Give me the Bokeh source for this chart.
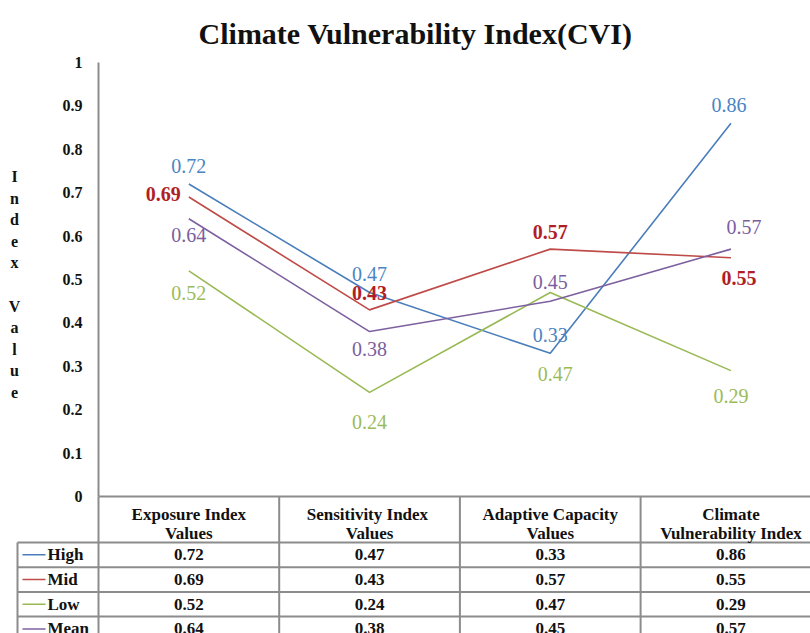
from bokeh.plotting import figure
from bokeh.models import Range1d, LinearAxis, FixedTicker, ColumnDataSource
from bokeh.core.properties import value
from bokeh.embed import file_html
from bokeh.resources import INLINE

# ---------------- data ----------------
title_text = "Climate Vulnerability Index(CVI)"
y_axis_title = "Index Value"
categories = ["Exposure Index\nValues", "Sensitivity  Index\nValues",
              "Adaptive Capacity\nValues", "Climate\nVulnerability Index"]
series_names = ["High", "Mid", "Low", "Mean"]
high = [0.72, 0.47, 0.33, 0.86]
mid = [0.69, 0.43, 0.57, 0.55]
low = [0.52, 0.24, 0.47, 0.29]
mean = [0.64, 0.38, 0.45, 0.57]
yticks = [0, 0.1, 0.2, 0.3, 0.4, 0.5, 0.6, 0.7, 0.8, 0.9, 1]
ytick_labels = ["0", "0.1", "0.2", "0.3", "0.4", "0.5", "0.6", "0.7", "0.8", "0.9", "1"]

# ---------------- styles ----------------
FONT = value("Liberation Serif")
line_colors = ["#4A7EBB", "#BE4B48", "#98B954", "#7D60A0"]
label_colors = ["#4A84C4", "#B01E26", "#9BBB59", "#7B5EA0"]
label_styles = ["normal", "bold", "normal", "normal"]
# per-point label offsets in screen px (dx, dy) and alignment
label_dx = [[0, 0, 0, -2], [-8, 0, 0, 8], [0, 0, 5, 0], [0, 0, 0, 13]]
label_dy = [[-18, -19, -18, -18], [-3, -17, -17, 20], [22, 30, 81, 25], [16, 17, -19, -22]]
label_align = [["center"] * 4, ["right", "center", "center", "center"], ["center"] * 4, ["center"] * 4]
grid_color = "#8C8C8C"

# pixel geometry (reference image coords)
W, H = 810, 633
PAGE = 0
X0, XS = 98, 180.7      # image px of x=0 and px per category
Y0, YS = 496, 434       # image px of y=0 and px per unit


def xd(px):
    return (px - X0) / XS


def yd(py):
    return (Y0 - py) / YS


p = figure(width=W, height=H, output_backend="svg", toolbar_location=None,
           x_range=Range1d(xd(PAGE), xd(PAGE + W)), y_range=Range1d(yd(PAGE + H), yd(PAGE)),
           x_axis_type=None, y_axis_type=None, min_border=0)
p.outline_line_color = None
p.background_fill_color = "white"

# ---------------- axes ----------------
yaxis = LinearAxis(fixed_location=0, bounds=(0, 1), ticker=FixedTicker(ticks=yticks))
yaxis.major_label_overrides = dict(zip(yticks, ytick_labels))
yaxis.major_tick_out = 0
yaxis.major_tick_in = 0
yaxis.minor_tick_out = 0
yaxis.minor_tick_in = 0
yaxis.axis_line_color = grid_color
yaxis.axis_line_width = 2
yaxis.major_label_text_font = "Liberation Serif"
yaxis.major_label_text_font_style = "bold"
yaxis.major_label_text_font_size = "16px"
yaxis.major_label_text_color = "#111111"
yaxis.major_label_standoff = 16
p.add_layout(yaxis, "left")

ncat = len(categories)
xcenters = [i + 0.5 for i in range(ncat)]
xaxis = LinearAxis(fixed_location=0, bounds=(0, ncat), ticker=FixedTicker(ticks=xcenters))
xaxis.major_label_overrides = dict(zip(xcenters, categories))
xaxis.major_tick_out = 0
xaxis.major_tick_in = 0
xaxis.minor_tick_out = 0
xaxis.minor_tick_in = 0
xaxis.axis_line_color = grid_color
xaxis.axis_line_width = 2
xaxis.major_label_text_font = "Liberation Serif"
xaxis.major_label_text_font_style = "bold"
xaxis.major_label_text_font_size = "17px"
xaxis.major_label_text_color = "#111111"
xaxis.major_label_text_line_height = 1.05
xaxis.major_label_standoff = 8
p.add_layout(xaxis, "below")

# ---------------- table grid ----------------
header_bottom = yd(542)
row_h = 24.7 / YS
legend_left = xd(17)
row_lines = [header_bottom - k * row_h for k in range(len(series_names) + 1)]
p.segment(x0=[legend_left] * len(row_lines), y0=row_lines, x1=[ncat] * len(row_lines), y1=row_lines,
          line_color=grid_color, line_width=2)
vx = list(range(ncat + 1))
p.segment(x0=vx, y0=[0] * len(vx), x1=vx, y1=[row_lines[-1]] * len(vx), line_color=grid_color, line_width=2)
p.segment(x0=[legend_left], y0=[header_bottom], x1=[legend_left], y1=[row_lines[-1]],
          line_color=grid_color, line_width=2)

all_series = [high, mid, low, mean]
row_centers = [header_bottom - (k + 0.5) * row_h for k in range(len(series_names))]

# legend keys + names
p.segment(x0=[xd(22)] * 4, y0=row_centers, x1=[xd(45)] * 4, y1=row_centers,
          line_color=line_colors, line_width=1.5)
p.text(x=[xd(47)] * 4, y=row_centers, text=series_names, text_font=FONT, text_font_style="bold",
       text_font_size="17px", text_align="left", text_baseline="middle", text_color="#111111")

# table values
for k, vals in enumerate(all_series):
    p.text(x=xcenters, y=[row_centers[k]] * ncat, text=[f"{v:.2f}" for v in vals], text_font=FONT,
           text_font_style="bold", text_font_size="17px", text_align="center", text_baseline="middle",
           text_color="#111111")

# ---------------- lines & data labels ----------------
for k, vals in enumerate(all_series):
    p.line(x=xcenters, y=vals, line_color=line_colors[k], line_width=1.6)
for k, vals in enumerate(all_series):
    src = ColumnDataSource(dict(x=xcenters, y=vals, t=[f"{v:.2f}" for v in vals],
                                dx=label_dx[k], dy=label_dy[k], al=label_align[k]))
    p.text(x="x", y="y", text="t", x_offset="dx", y_offset="dy", text_align="al", source=src,
           text_font=FONT, text_font_style=label_styles[k], text_font_size="20px",
           text_baseline="middle", text_color=label_colors[k])

# ---------------- titles ----------------
p.text(x=[xd(415)], y=[yd(33)], text=[title_text], text_font=FONT, text_font_style="bold",
       text_font_size="30px", text_align="center", text_baseline="middle", text_color="#111111")
p.text(x=[xd(14)], y=[yd(284)], text=["\n".join(c for c in y_axis_title)],
       text_font=FONT, text_font_style="bold", text_font_size="16px", text_align="center",
       text_baseline="middle", text_line_height=1.27, text_color="#111111")

open("out.html", "w").write(file_html(p, INLINE))
